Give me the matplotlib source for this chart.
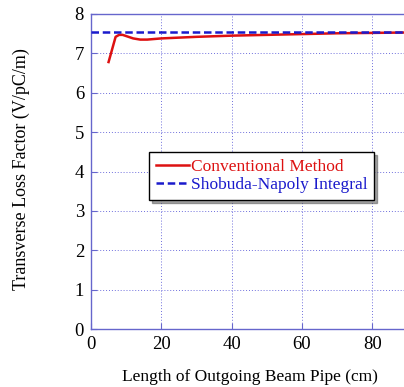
import matplotlib
matplotlib.use("Agg")
import matplotlib.pyplot as plt

conv_x = [5, 6, 7, 8, 9, 10, 12, 14, 16, 20, 25, 30, 40, 50, 60, 70, 80, 90, 100]
conv_y = [6.78, 7.1, 7.42, 7.47, 7.47, 7.44, 7.38, 7.35, 7.35, 7.38, 7.40, 7.42, 7.45, 7.47, 7.49, 7.51, 7.52, 7.53, 7.54]
sn_x = [0, 100]
sn_y = [7.55, 7.55]

xticks = [0, 20, 40, 60, 80]
yticks = [0, 1, 2, 3, 4, 5, 6, 7, 8]

plt.rcParams['font.family'] = ['Liberation Serif', 'DejaVu Serif']
fig = plt.figure(figsize=(4.04, 3.87), dpi=100)
W, H = 404, 387
ax = fig.add_axes([91 / W, (H - 329) / H, 351.5 / W, 315 / H])

ax.plot(conv_x, conv_y, color='#dd1111', lw=1.8, label='Conventional Method', zorder=3)
ax.plot(sn_x, sn_y, color='#1a1acc', lw=1.8, ls=(0, (3, 1.5)), label='Shobuda-Napoly Integral', zorder=4)

ax.set_xlim(0, 100)
ax.set_ylim(0, 8)
ax.set_xticks(xticks)
ax.set_yticks(yticks)
ax.grid(True, color='#7070dd', ls=(0, (1, 2)), lw=0.7)
for s in ax.spines.values():
    s.set_color('#6666cc')
    s.set_linewidth(1.0)
ax.tick_params(direction='in', color='#6666cc', labelsize=13.5, length=4, pad=5)

ax.set_xlabel('Length of Outgoing Beam Pipe (cm)', fontsize=12.5)
ax.set_ylabel('Transverse Loss Factor (V/pC/m)', fontsize=13)
ax.xaxis.set_label_coords((250 - 91) / 351.5, -(369 - 329) / 315)
ax.yaxis.set_label_coords(-(91 - 30) / 351.5, (329 - 169) / 315)

leg = ax.legend(loc='lower left', bbox_to_anchor=((149 - 91) / 351.5, (329 - 200) / 315), fontsize=12.5,
                frameon=True, fancybox=False, shadow=True, handlelength=1.9,
                handletextpad=0.1, borderpad=0.4, labelspacing=0.1, borderaxespad=0)
leg.get_frame().set_edgecolor('black')
leg.get_frame().set_linewidth(1.0)
for t, c in zip(leg.get_texts(), ['#dd1111', '#1a1acc']):
    t.set_color(c)

fig.savefig('out.png', dpi=100)
